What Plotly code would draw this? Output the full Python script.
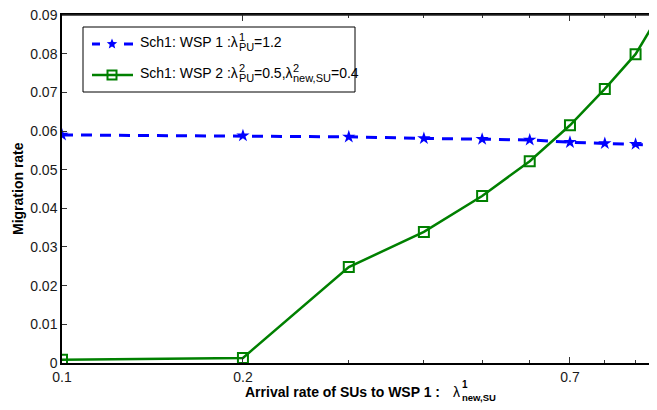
import math
import plotly.graph_objects as go

# ---- data ----
arrival_rate = [0.1, 0.2, 0.3, 0.4, 0.5, 0.6, 0.7, 0.8, 0.9, 1.0]
wsp1_migration = [0.0590, 0.0588, 0.0585, 0.0581, 0.0579, 0.0577, 0.0571, 0.0568, 0.0566, 0.0563]
wsp2_migration = [0.0008, 0.0013, 0.0248, 0.0339, 0.0432, 0.0522, 0.0615, 0.0709, 0.0799, 0.0918]
x_tick_vals = [0.1, 0.2, 0.7]
x_minor_vals = [0.3, 0.4, 0.5, 0.6, 0.8, 0.9]
y_tick_vals = [0, 0.01, 0.02, 0.03, 0.04, 0.05, 0.06, 0.07, 0.08, 0.09]
y_tick_text = ["0", "0.01", "0.02", "0.03", "0.04", "0.05", "0.06", "0.07", "0.08", "0.09"]
series_names = ["Sch1: WSP 1 λPU1=1.2", "Sch1: WSP 2 λPU2=0.5,λnew,SU2=0.4"]

FONT = "Liberation Sans, Arial, sans-serif"
BLUE = "#0000ff"
GREEN = "#008000"

# page has an 8px body margin; figure is sized to fill the rest of the window
OFF = 8
W, H = 657 - OFF, 410 - OFF
# plot area in page pixels
PX0, PX1, PY0, PY1 = 62, 657, 15, 363


def px(x):
    return (x - PX0) / (PX1 - PX0)


def py(y):
    return (PY1 - y) / (PY1 - PY0)


# Arial/Liberation Sans advance widths (per 1000 em)
REG = {"S": 667, "c": 500, "h": 556, "1": 556, "2": 556, ":": 278, " ": 278, "W": 944, "P": 667,
       "λ": 500, "=": 584, ".": 278, "0": 556, "4": 556, "5": 556, ",": 278, "n": 556, "e": 556,
       "w": 722, "U": 722}


def tw(s, size):
    return sum(REG.get(ch, 556) for ch in s) * size / 1000.0


fig = go.Figure()
fig.add_trace(go.Scatter(
    x=arrival_rate, y=wsp1_migration, name=series_names[0], mode="lines+markers",
    line=dict(color=BLUE, width=3, dash="11px,8px"),
    marker=dict(symbol="star", size=10, color=BLUE, line=dict(width=0)),
    showlegend=False,
))
fig.add_trace(go.Scatter(
    x=arrival_rate, y=wsp2_migration, name=series_names[1], mode="lines+markers",
    line=dict(color=GREEN, width=2.5),
    marker=dict(symbol="square-open", size=10, color=GREEN, line=dict(width=2)),
    showlegend=False,
))

shapes = []
annotations = []

# top frame line
shapes.append(dict(type="line", xref="paper", yref="paper", x0=0, x1=1, y0=1, y1=1,
                   line=dict(color="#222222", width=1.5), layer="above"))

# ---- legend (drawn by hand to get stacked super/subscripts) ----
shapes.append(dict(type="rect", xref="paper", yref="paper", x0=px(83), x1=px(355), y0=py(27), y1=py(92),
                   line=dict(color="black", width=1), fillcolor="white", layer="above"))
r1, r2 = 44, 75
# row 1 sample: dashed blue with star
for a, b in [(92, 100), (124, 133)]:
    shapes.append(dict(type="line", xref="paper", yref="paper", x0=px(a), x1=px(b), y0=py(r1), y1=py(r1),
                       line=dict(color=BLUE, width=3), layer="above"))
star = []
for k in range(10):
    ang = math.pi / 2 + k * math.pi / 5
    rad = 5.5 if k % 2 == 0 else 2.4
    star.append((rad * math.cos(ang), rad * math.sin(ang)))
path = "M " + " L ".join(f"{x:.2f},{y:.2f}" for x, y in star) + " Z"
shapes.append(dict(type="path", xref="paper", yref="paper", xsizemode="pixel", ysizemode="pixel",
                   xanchor=px(112), yanchor=py(r1), path=path, fillcolor=BLUE, line=dict(width=0), layer="above"))
# row 2 sample: solid green with open square
shapes.append(dict(type="line", xref="paper", yref="paper", x0=px(92), x1=px(133), y0=py(r2), y1=py(r2),
                   line=dict(color=GREEN, width=2.5), layer="above"))
shapes.append(dict(type="rect", xref="paper", yref="paper", xsizemode="pixel", ysizemode="pixel",
                   xanchor=px(112), yanchor=py(r2), x0=-4.5, x1=4.5, y0=-4.5, y1=4.5,
                   line=dict(color=GREEN, width=2), fillcolor="rgba(0,0,0,0)", layer="above"))


def txt(x, y, s, size, bold=False, color="black"):
    annotations.append(dict(text=f"<b>{s}</b>" if bold else s, xref="paper", yref="paper",
                            x=px(x), y=py(y), xanchor="left", yanchor="middle", showarrow=False,
                            font=dict(family=FONT, size=size, color=color)))


MS, SS = 14, 11
for row, parts in [(r1, [("t", "Sch1: WSP 1 :λ"), ("ss", "1", "PU"), ("t", "=1.2")]),
                   (r2, [("t", "Sch1: WSP 2 :λ"), ("ss", "2", "PU"), ("t", "=0.5,λ"), ("ss", "2", "new,SU"), ("t", "=0.4")])]:
    x = 138
    yc = row - 2
    for p in parts:
        if p[0] == "t":
            txt(x, yc, p[1], MS)
            x += tw(p[1], MS)
        else:
            txt(x + 0.5, yc - 5.5, p[1], SS)
            txt(x + 0.5, yc + 5, p[2], SS)
            x += max(tw(p[1], SS), tw(p[2], SS)) + 0.5

# ---- axis titles ----
txt(243, 392, "Arrival rate of SUs to WSP 1 :", 14, bold=True)
txt(451, 392, "λ", 14)
txt(460, 384, "1", 10, bold=True)
txt(460, 397, "new,SU", 9.5, bold=True)
annotations.append(dict(text="<b>Migration rate</b>", xref="paper", yref="paper", x=px(18), y=py(189),
                        xanchor="center", yanchor="middle", textangle=-90, showarrow=False,
                        font=dict(family=FONT, size=14, color="black")))

fig.update_layout(
    width=W, height=H,
    margin=dict(l=PX0 - OFF, r=0, t=PY0 - OFF, b=H - (PY1 - OFF), autoexpand=False),
    paper_bgcolor="white", plot_bgcolor="white",
    font=dict(family=FONT, size=14, color="black"),
    showlegend=False,
    xaxis=dict(
        type="log", range=[-1, math.log10(0.977)],
        tickmode="array", tickvals=x_tick_vals, ticktext=[str(v) for v in x_tick_vals],
        ticks="inside", ticklen=6, tickcolor="#333333",
        minor=dict(tickmode="array", tickvals=x_minor_vals, ticks="inside", ticklen=3,
                   tickcolor="#333333", showgrid=False),
        showline=True, linecolor="black", linewidth=1.5, mirror="allticks",
        showgrid=False, zeroline=False, automargin=False, ticklabeloverflow="allow",
        tickfont=dict(size=14, color="#1a1a1a"),
    ),
    yaxis=dict(
        range=[-0.00002, 0.09003],
        tickmode="array", tickvals=y_tick_vals, ticktext=y_tick_text,
        ticks="inside", ticklen=5, tickcolor="#333333",
        showline=True, linecolor="black", linewidth=1.5,
        showgrid=False, zeroline=False, automargin=False, ticklabeloverflow="allow",
        tickfont=dict(size=14, color="#1a1a1a"),
    ),
    shapes=shapes,
    annotations=annotations,
)

fig.write_html("out.html")
